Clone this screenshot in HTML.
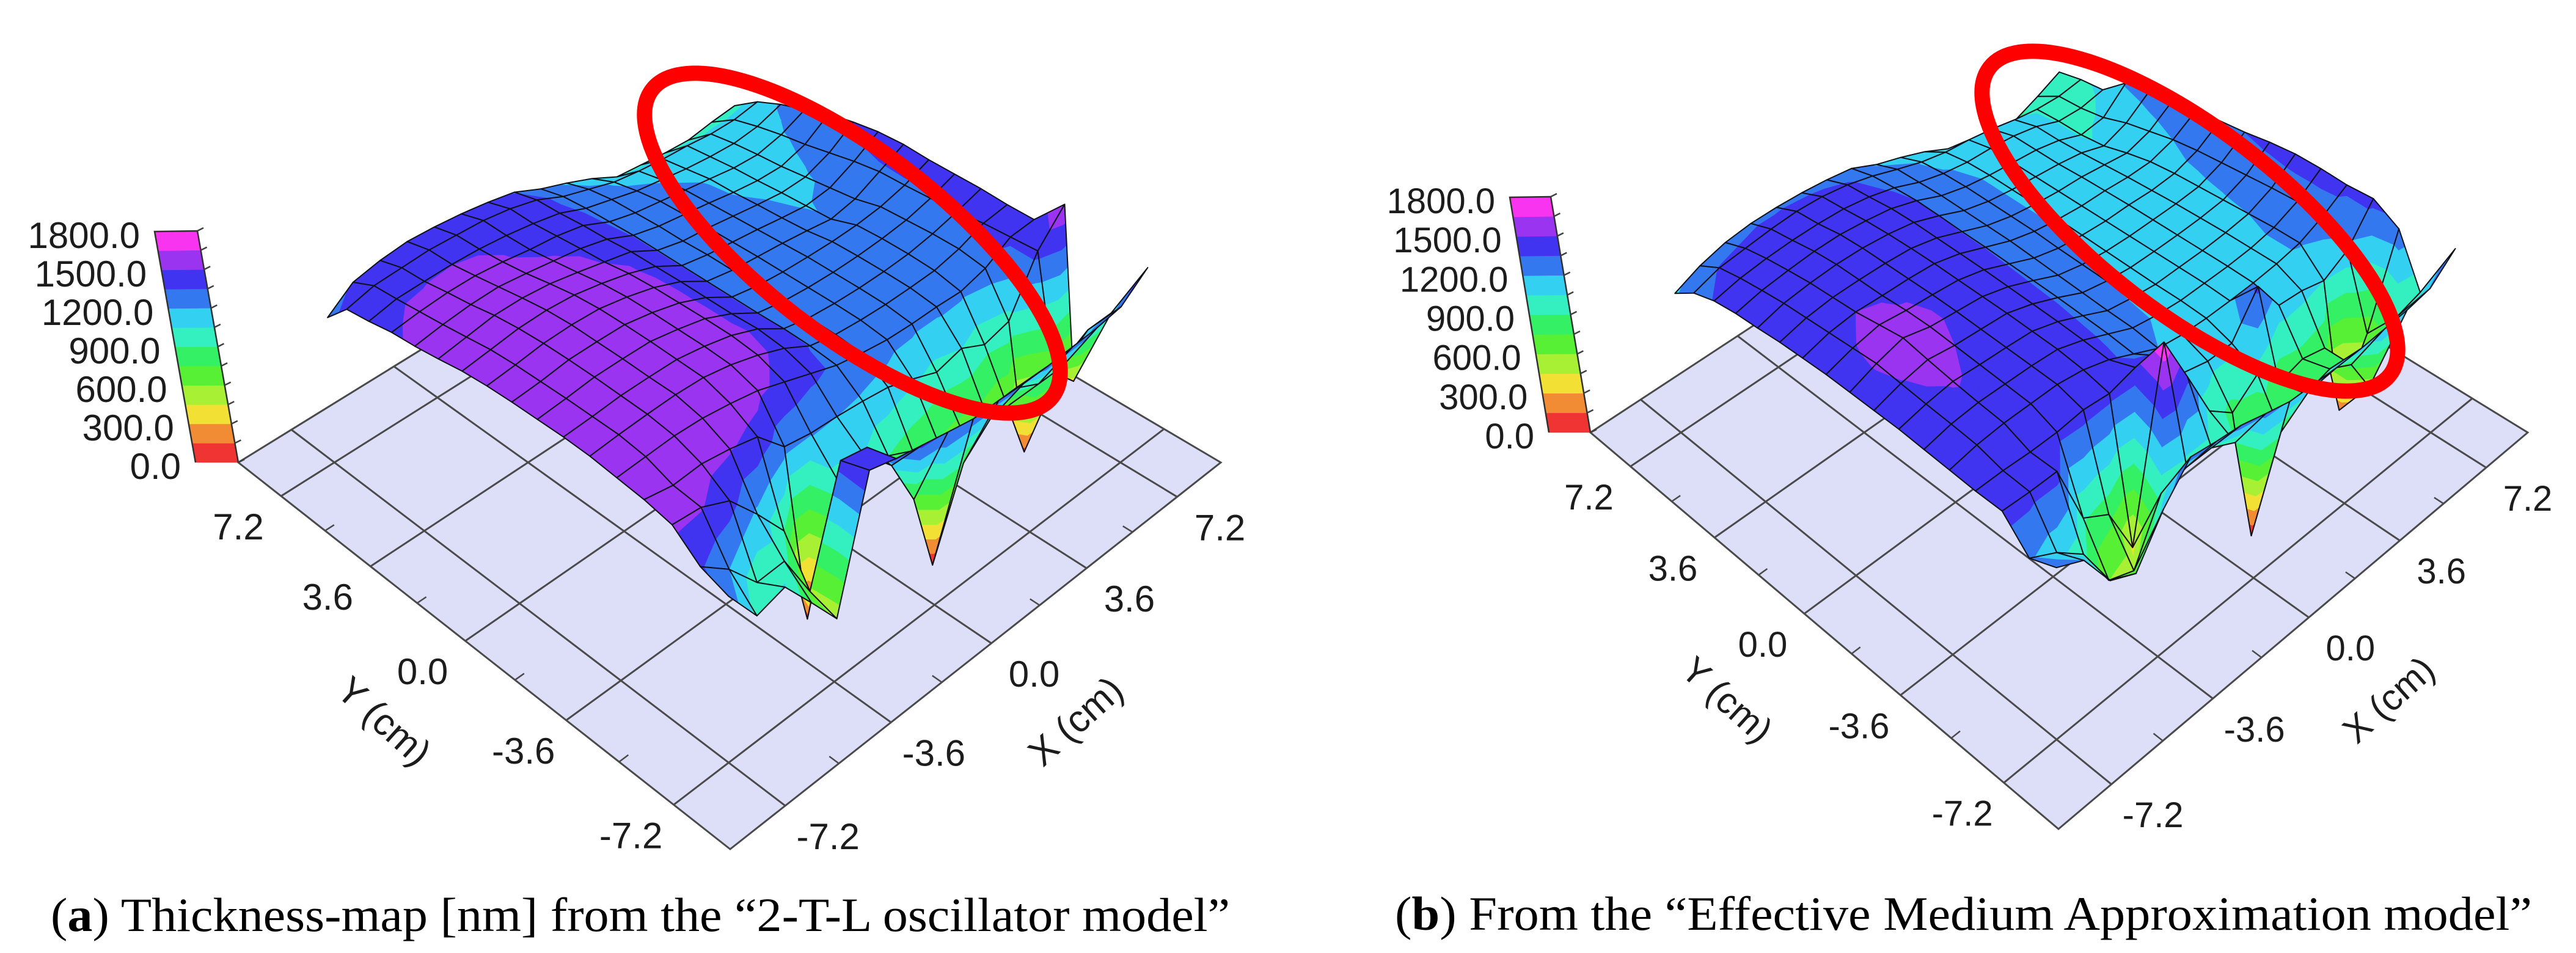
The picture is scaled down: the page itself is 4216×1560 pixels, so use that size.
<!DOCTYPE html>
<html lang="en">
<head>
<meta charset="utf-8">
<title>Thickness maps</title>
<style>
html,body{margin:0;padding:0;background:#fff}
svg{display:block}
text{font-family:"Liberation Sans",sans-serif;fill:#1c1c1c}
.cap{font-family:"Liberation Serif",serif;fill:#000}
</style>
</head>
<body>
<svg id="chart" xmlns="http://www.w3.org/2000/svg" width="4216" height="1560" viewBox="0 0 4216 1560">
<rect x="0" y="0" width="4216" height="1560" fill="#ffffff"/>
<g id="panel-a"></g>
<g id="panel-b"></g>
<text class="cap" x="83" y="1524" font-size="78" textLength="1930" lengthAdjust="spacingAndGlyphs">(<tspan font-weight="bold">a</tspan>) Thickness-map [nm] from the “2-T-L oscillator model”</text>
<text class="cap" x="2283" y="1522" font-size="78" textLength="1861" lengthAdjust="spacingAndGlyphs">(<tspan font-weight="bold">b</tspan>) From the “Effective Medium Approximation model”</text>
</svg>
<script>
// Contour band colours (one per 150 nm step, lowest first)
var bandColors = ['#f03434','#f28c34','#f2e034','#a8f034','#58f034','#34f064','#34f0c0','#34d0f2','#3478f0','#4034f0','#9a34f0','#f834f0'];
var bandStep = 150;
var colorbarTicks = [0,300,600,900,1200,1500,1800];
var colorbarLabels = ['0.0','300.0','600.0','900.0','1200.0','1500.0','1800.0'];
var axisTicks = [7.2,3.6,0,-3.6,-7.2];
var axisLabels = ['7.2','3.6','0.0','-3.6','-7.2'];
var minorTicks = [-5.4,-1.8,1.8,5.4];
var surfaceX = [-7.2,-6.3,-5.4,-4.5,-3.6,-2.7,-1.8,-0.9,0,0.9,1.8,2.7,3.6,4.5,5.4,6.3,7.2];
var surfaceY = [-7.2,-6.34,-5.48,-4.61,-3.75,-2.89,-2.03,-1.16,-0.3,0.56,1.43,2.29,3.15,4.01,4.88,5.74,6.6];

// Thickness [nm]: rows follow surfaceY, columns follow surfaceX
var thicknessA = [
[1300,1000,1062,790,510,1480,1424,1382,1340,1300,1300,1290,1290,1300,1310,1340,1500],
[1370,1200,950,960,575,1416,1373,1100,700,30,700,900,1000,900,900,1050,1050],
[1530,1510,1413,1170,900,50,1000,1050,900,800,750,700,700,600,100,600,400],
[1570,1530,1543,1510,1460,1250,1213,1200,1180,1150,1080,1000,1050,950,1000,1400,1620],
[1590,1600,1610,1600,1570,1530,1460,1390,1320,1280,1250,1240,1240,1230,1280,1390,1400],
[1610,1625,1635,1640,1630,1590,1530,1450,1340,1295,1275,1265,1265,1270,1310,1380,1400],
[1615,1625,1640,1640,1635,1600,1550,1470,1345,1300,1280,1270,1270,1280,1310,1355,1410],
[1610,1625,1645,1645,1640,1600,1550,1460,1340,1300,1280,1270,1270,1280,1300,1345,1410],
[1605,1620,1645,1645,1640,1600,1545,1460,1340,1300,1280,1270,1265,1270,1290,1335,1410],
[1595,1615,1640,1645,1635,1595,1540,1460,1340,1300,1280,1260,1235,1205,1240,1330,1420],
[1575,1600,1625,1630,1615,1575,1525,1455,1340,1300,1275,1250,1220,1195,1215,1300,1410],
[1540,1570,1600,1600,1580,1540,1495,1450,1340,1290,1270,1240,1210,1185,1190,1260,1380],
[1510,1540,1560,1565,1540,1510,1480,1430,1340,1290,1260,1230,1195,1170,1165,1220,1340],
[1490,1515,1530,1530,1510,1480,1460,1420,1330,1280,1250,1220,1190,1160,1150,1190,1270],
[1450,1490,1495,1498,1490,1470,1440,1400,1320,1270,1220,1190,1160,1140,1130,1150,1210],
[1420,1470,1480,1490,1480,1470,1440,1390,1300,1240,1180,1150,1130,1120,1100,1100,1130],
[1240,1380,1420,1440,1430,1410,1380,1340,1250,1180,1100,1000,980,960,950,980,1000]
];

// Thickness [nm]: rows follow surfaceY, columns follow surfaceX
var thicknessB = [
[1300,1200,900,800,1120,1350,1318,1295,1240,1190,1180,1170,1170,1180,1190,1220,1380],
[1220,1110,947,600,520,950,1000,1000,900,40,700,850,900,800,500,900,950],
[1410,1400,1400,920,800,400,1750,1380,1000,850,1000,800,850,800,190,650,1296],
[1410,1410,1400,1400,1420,1400,1450,1400,1150,1100,1100,1380,1120,1100,1050,1150,1400],
[1420,1455,1470,1470,1470,1440,1380,1290,1200,1170,1160,1160,1165,1180,1210,1285,1390],
[1430,1470,1485,1480,1475,1460,1395,1310,1225,1190,1170,1170,1170,1180,1210,1280,1400],
[1440,1480,1505,1490,1480,1465,1405,1320,1230,1195,1170,1170,1170,1180,1200,1270,1400],
[1440,1495,1530,1500,1485,1470,1410,1330,1240,1200,1175,1170,1170,1175,1190,1255,1380],
[1440,1510,1560,1510,1490,1470,1415,1335,1250,1205,1180,1170,1170,1170,1180,1240,1350],
[1440,1495,1530,1505,1490,1470,1420,1340,1260,1210,1185,1170,1170,1160,1170,1225,1330],
[1430,1480,1500,1490,1485,1470,1420,1345,1270,1220,1190,1170,1165,1150,1150,1200,1300],
[1420,1465,1485,1485,1480,1465,1420,1345,1270,1220,1190,1170,1160,1135,1110,1160,1270],
[1400,1450,1470,1480,1475,1455,1420,1350,1270,1220,1190,1170,1150,1120,1060,1120,1240],
[1385,1425,1445,1460,1460,1440,1410,1350,1270,1220,1190,1170,1150,1110,1040,1060,1210],
[1355,1395,1415,1425,1425,1415,1385,1335,1260,1210,1180,1170,1150,1110,1040,1030,1060],
[1295,1355,1375,1395,1405,1395,1365,1315,1250,1190,1150,1130,1100,1060,1030,1020,1040],
[1175,1255,1305,1325,1325,1315,1295,1265,1180,1120,1050,960,880,830,850,920,1000]
];

var NS = 'http://www.w3.org/2000/svg';
var AXIS_MIN = -9, AXIS_MAX = 9, Z_MAX = 1800;

function makeProjector(cfg) {
  var x0=cfg.B[0],y0=cfg.B[1],x1=cfg.R[0],y1=cfg.R[1],x2=cfg.T[0],y2=cfg.T[1],x3=cfg.L[0],y3=cfg.L[1];
  var dx1=x1-x2,dy1=y1-y2,dx2=x3-x2,dy2=y3-y2,sx=x0-x1+x2-x3,sy=y0-y1+y2-y3;
  var den=dx1*dy2-dx2*dy1;
  var g=(sx*dy2-dx2*sy)/den,h=(dx1*sy-sx*dy1)/den;
  var a=x1-x0+g*x1,b=x3-x0+h*x3,c=x0,d=y1-y0+g*y1,e=y3-y0+h*y3,f=y0;
  // vertical vanishing point from the leaning colour-bar axis
  var lean=(cfg.L[0]-cfg.barTopRight[0])/(cfg.L[1]-cfg.barTopRight[1]);
  var vx=x0, vy=cfg.L[1]+(x0-cfg.L[0])/lean;
  var wL=1+h;
  var l=-(cfg.L[1]-cfg.barTopRight[1])*wL/(vy-cfg.barTopRight[1]);
  return function(x,y,z){
    var s=(x-AXIS_MIN)/(AXIS_MAX-AXIS_MIN),t=(y-AXIS_MIN)/(AXIS_MAX-AXIS_MIN),q=z/Z_MAX;
    var w=g*s+h*t+1+l*q;
    return [(a*s+b*t+c+l*q*vx)/w,(d*s+e*t+f+l*q*vy)/w];
  };
}

function fmt(p){return p[0].toFixed(1)+','+p[1].toFixed(1);}

function clipZ(poly,limit,keepAbove){
  var out=[];
  for(var n=0;n<poly.length;n++){
    var A=poly[n],B=poly[(n+1)%poly.length];
    var inA=keepAbove?A.z>=limit:A.z<=limit, inB=keepAbove?B.z>=limit:B.z<=limit;
    if(inA)out.push(A);
    if(inA!==inB){
      var k=(limit-A.z)/(B.z-A.z);
      out.push({x:A.x+(B.x-A.x)*k,y:A.y+(B.y-A.y)*k,z:limit});
    }
  }
  return out;
}

function drawPanel(cfg,zGrid){
  var root=document.getElementById(cfg.id);
  var project=makeProjector(cfg);

  var floorPts=[cfg.B,cfg.R,cfg.T,cfg.L].map(fmt).join(' ');
  var floor=document.createElementNS(NS,'polygon');
  floor.setAttribute('points',floorPts);
  floor.setAttribute('fill','#dddff8');
  floor.setAttribute('stroke','#4a4a4a');
  floor.setAttribute('stroke-width','3');
  
  
  root.appendChild(floor);

  axisTicks.forEach(function(v){
    var p1=project(v,AXIS_MIN,0),p2=project(v,AXIS_MAX,0);
    var gx=document.createElementNS(NS,'line');
    gx.setAttribute('x1',p1[0]);gx.setAttribute('y1',p1[1]);gx.setAttribute('x2',p2[0]);gx.setAttribute('y2',p2[1]);
    gx.setAttribute('stroke','#4a4a4a');gx.setAttribute('stroke-width','3');
    
    
    root.appendChild(gx);
    var p3=project(AXIS_MIN,v,0),p4=project(AXIS_MAX,v,0);
    var gy=document.createElementNS(NS,'line');
    gy.setAttribute('x1',p3[0]);gy.setAttribute('y1',p3[1]);gy.setAttribute('x2',p4[0]);gy.setAttribute('y2',p4[1]);
    gy.setAttribute('stroke','#4a4a4a');gy.setAttribute('stroke-width','3');
    
    
    root.appendChild(gy);
  });

  minorTicks.forEach(function(v){
    var a1=project(v,AXIS_MIN,0),a2=project(v,AXIS_MIN+0.3,0);
    var tx=document.createElementNS(NS,'line');
    tx.setAttribute('x1',a1[0]);tx.setAttribute('y1',a1[1]);tx.setAttribute('x2',a2[0]);tx.setAttribute('y2',a2[1]);
    tx.setAttribute('stroke','#4a4a4a');tx.setAttribute('stroke-width','2.5');
    
    
    root.appendChild(tx);
    var b1=project(AXIS_MIN,v,0),b2=project(AXIS_MIN+0.3,v,0);
    var ty=document.createElementNS(NS,'line');
    ty.setAttribute('x1',b1[0]);ty.setAttribute('y1',b1[1]);ty.setAttribute('x2',b2[0]);ty.setAttribute('y2',b2[1]);
    ty.setAttribute('stroke','#4a4a4a');ty.setAttribute('stroke-width','2.5');
    
    
    root.appendChild(ty);
  });

  // surface cells, painted far to near
  var surf=document.createElementNS(NS,'g');
  
  
  root.appendChild(surf);
  var nI=surfaceX.length,nJ=surfaceY.length;
  for(var sum=nI+nJ-4;sum>=0;sum--){
    for(var j=nJ-2;j>=0;j--){
      var i=sum-j;
      if(i<0||i>nI-2)continue;
      var n00={x:surfaceX[i],y:surfaceY[j],z:zGrid[j][i]};
      var n10={x:surfaceX[i+1],y:surfaceY[j],z:zGrid[j][i+1]};
      var n11={x:surfaceX[i+1],y:surfaceY[j+1],z:zGrid[j+1][i+1]};
      var n01={x:surfaceX[i],y:surfaceY[j+1],z:zGrid[j+1][i]};
      var tris=[[n00,n10,n11],[n00,n11,n01]];
      tris.forEach(function(tri){
        bandColors.forEach(function(col,b){
          var lo=b*bandStep,hi=(b+1)*bandStep;
          var poly=tri;
          if(b>0)poly=clipZ(poly,lo,true);
          if(poly.length&&b<bandColors.length-1)poly=clipZ(poly,hi,false);
          if(poly.length<3)return;
          var pts=poly.map(function(v){return fmt(project(v.x,v.y,v.z));}).join(' ');
          var el=document.createElementNS(NS,'polygon');
          el.setAttribute('points',pts);
          el.setAttribute('fill',col);
          el.setAttribute('stroke',col);
          el.setAttribute('stroke-width','0.8');
          
          
          surf.appendChild(el);
        });
      });
      var outline=[n00,n10,n11,n01].map(function(v){return fmt(project(v.x,v.y,v.z));}).join(' ');
      var cell=document.createElementNS(NS,'polygon');
      cell.setAttribute('points',outline);
      cell.setAttribute('fill','none');
      cell.setAttribute('stroke','#101018');
      cell.setAttribute('stroke-width','2');
      cell.setAttribute('stroke-linejoin','round');
      
      
      surf.appendChild(cell);
    }
  }

  // colour bar
  var BL=cfg.barBottomLeft,BR=cfg.L,TL=cfg.barTopLeft,TR=cfg.barTopRight;
  function barPoint(side,value){
    var k=value/Z_MAX;
    var from=side==='left'?BL:BR,to=side==='left'?TL:TR;
    return [from[0]+(to[0]-from[0])*k,from[1]+(to[1]-from[1])*k];
  }
  bandColors.forEach(function(col,b){
    var lo=b*bandStep,hi=(b+1)*bandStep;
    var seg=document.createElementNS(NS,'polygon');
    seg.setAttribute('points',[barPoint('left',lo),barPoint('right',lo),barPoint('right',hi),barPoint('left',hi)].map(fmt).join(' '));
    seg.setAttribute('fill',col);
    seg.setAttribute('stroke',col);
    seg.setAttribute('stroke-width','0.6');
    
    
    root.appendChild(seg);
  });
  var border=document.createElementNS(NS,'polyline');
  border.setAttribute('points',[BL,TL,TR,BR].map(fmt).join(' '));
  border.setAttribute('fill','none');
  border.setAttribute('stroke','#303030');
  border.setAttribute('stroke-width','2.5');
  
  
  root.appendChild(border);
  for(var v=0;v<=Z_MAX;v+=bandStep){
    var tp=barPoint('right',v);
    var tk=document.createElementNS(NS,'line');
    tk.setAttribute('x1',tp[0]);tk.setAttribute('y1',tp[1]);tk.setAttribute('x2',tp[0]+10);tk.setAttribute('y2',tp[1]-5);
    tk.setAttribute('stroke','#404040');tk.setAttribute('stroke-width','2.5');
    
    
    root.appendChild(tk);
  }
  colorbarTicks.forEach(function(val,n){
    var lp=barPoint('left',val);
    var tx=document.createElementNS(NS,'text');
    tx.setAttribute('x',lp[0]-24);
    tx.setAttribute('y',lp[1]+cfg.barLabelDy);
    tx.setAttribute('font-size',cfg.fontSize);
    tx.setAttribute('text-anchor','end');
    
    
    tx.textContent=colorbarLabels[n];
    root.appendChild(tx);
  });

  // axis tick labels
  axisTicks.forEach(function(val,n){
    var px=project(val,AXIS_MIN,0);
    var lx=document.createElementNS(NS,'text');
    lx.setAttribute('x',px[0]+cfg.labelDx);
    lx.setAttribute('y',px[1]+cfg.labelDy+cfg.fontSize*0.35);
    lx.setAttribute('font-size',cfg.fontSize);
    lx.setAttribute('text-anchor','middle');
    
    
    lx.textContent=axisLabels[n];
    root.appendChild(lx);
    var py=project(AXIS_MIN,val,0);
    var ly=document.createElementNS(NS,'text');
    ly.setAttribute('x',py[0]-cfg.labelDx);
    ly.setAttribute('y',py[1]+cfg.labelDy+cfg.fontSize*0.35);
    ly.setAttribute('font-size',cfg.fontSize);
    ly.setAttribute('text-anchor','middle');
    
    
    ly.textContent=axisLabels[n];
    root.appendChild(ly);
  });

  var ty=document.createElementNS(NS,'text');
  ty.setAttribute('transform','translate('+cfg.yTitle[0]+','+cfg.yTitle[1]+') rotate(42)');
  ty.setAttribute('font-size',cfg.fontSize+2);
  ty.setAttribute('text-anchor','middle');
  ty.setAttribute('dy','0.35em');
  
  
  ty.textContent='Y (cm)';
  root.appendChild(ty);
  var tx2=document.createElementNS(NS,'text');
  tx2.setAttribute('transform','translate('+cfg.xTitle[0]+','+cfg.xTitle[1]+') rotate(-42)');
  tx2.setAttribute('font-size',cfg.fontSize+2);
  tx2.setAttribute('text-anchor','middle');
  tx2.setAttribute('dy','0.35em');
  
  
  tx2.textContent='X (cm)';
  root.appendChild(tx2);

  var ring=document.createElementNS(NS,'ellipse');
  ring.setAttribute('cx',0);ring.setAttribute('cy',0);
  ring.setAttribute('rx',cfg.ring[2]);ring.setAttribute('ry',cfg.ring[3]);
  ring.setAttribute('transform','translate('+cfg.ring[0]+','+cfg.ring[1]+') rotate('+cfg.ring[4]+')');
  ring.setAttribute('fill','none');
  ring.setAttribute('stroke','#ff0000');
  ring.setAttribute('stroke-width','25');
  
  
  root.appendChild(ring);
}

drawPanel({
  id:'panel-a',
  B:[1195,1390],R:[1998,757],T:[1176,272],L:[390,757],
  barTopRight:[323,378],barTopLeft:[253,379],barBottomLeft:[320,757],
  barLabelDy:27,fontSize:60,labelDx:70,labelDy:50,
  yTitle:[629,1180],xTitle:[1760,1180],
  ring:[1395,398,413,150,37.5]
},thicknessA);

drawPanel({
  id:'panel-b',
  B:[3369,1357],R:[4137,708],T:[3345,221],L:[2603,708],
  barTopRight:[2538,322],barTopLeft:[2471,323],barBottomLeft:[2535,708],
  barLabelDy:26,fontSize:58,labelDx:68,labelDy:50,
  yTitle:[2827,1145],xTitle:[3909,1145],
  ring:[3584,362,413,150,37.5]
},thicknessB);
</script>
</body>
</html>
